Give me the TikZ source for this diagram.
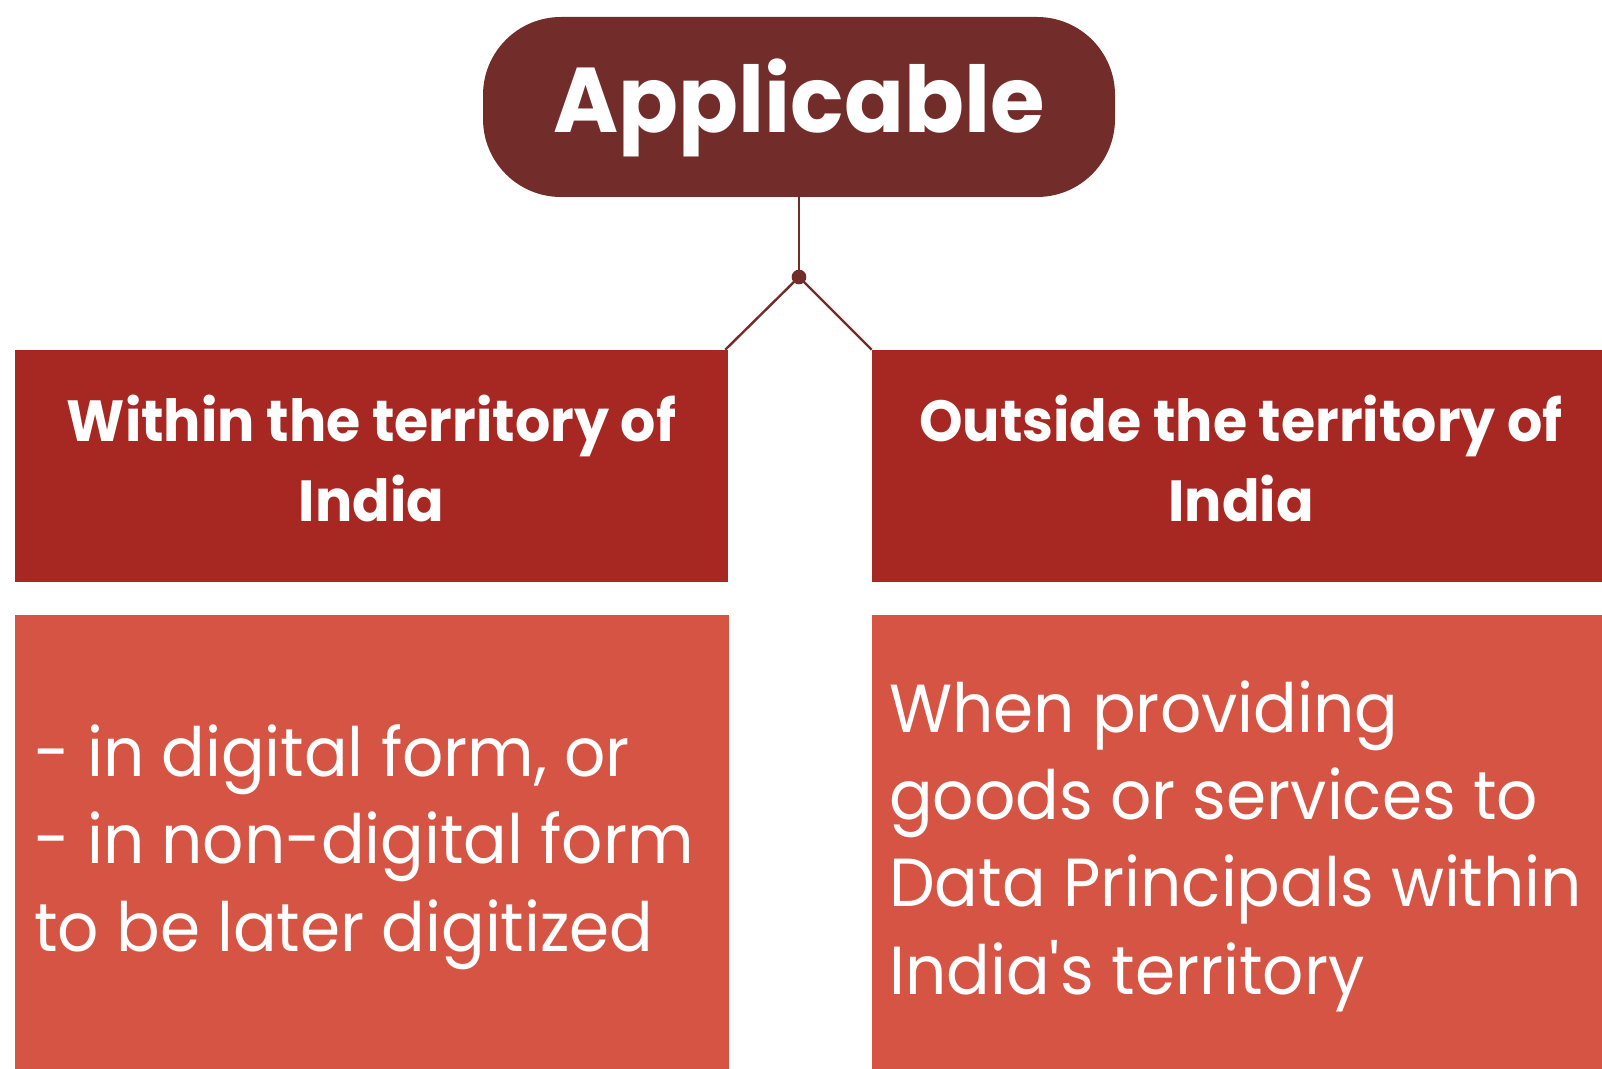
\documentclass[tikz,border=0pt]{standalone}
\usepackage{fontspec}
\setmainfont{Poppins}
\newfontfamily\titlefont[FakeStretch=0.96]{Poppins}
\newfontfamily\headfont[FakeStretch=0.955]{Poppins}
\newfontfamily\bodyfont[FakeStretch=0.95]{Poppins}
\definecolor{maroon}{HTML}{722C2A}
\definecolor{headred}{HTML}{A72723}
\definecolor{bodyred}{HTML}{D65444}
\begin{document}
\begin{tikzpicture}[x=0.75pt,y=-0.75pt,
  pill/.style={fill=maroon,rounded corners=58.5pt,minimum width=474pt,minimum height=135pt,inner sep=0pt,text=white,font=\titlefont\fontsize{69pt}{69pt}\selectfont\bfseries,text height=40pt,text depth=1pt},
  headbox/.style={fill=headred,inner sep=0pt,minimum height=174pt},
  bodybox/.style={fill=bodyred,inner sep=0pt},
  headtext/.style={text=white,inner sep=0pt,align=center,font=\headfont\fontsize{43.5pt}{59.25pt}\selectfont\bfseries},
  bodytext/.style={text=white,inner sep=0pt,align=left,font=\bodyfont\fontsize{51pt}{65.5pt}\selectfont},
  link/.style={draw=maroon,line width=1.8pt}]
\useasboundingbox (0,0) rectangle (1602,1069);
\clip (0,0) rectangle (1602,1069);
\fill[white] (0,0) rectangle (1602,1069);
\node[pill] (top) at (799,107) {Applicable};
\node[headbox,minimum width=534.75pt] (h1) at (371.5,466) {};
\node[headbox,minimum width=553.5pt] (h2) at (1241,466) {};
\node[bodybox,minimum width=535.5pt,minimum height=360pt] (b1) at (372,855) {};
\node[bodybox,minimum width=553.5pt,minimum height=360pt] (b2) at (1241,855) {};
\coordinate (j) at (799,277);
\draw[link] (top.south) -- (j);
\draw[link] (j) -- ([xshift=-2.25pt]h1.north east);
\draw[link] (j) -- (h2.north west);
\fill[maroon] (j) circle (5.5pt);
\node[headtext,anchor=base] (t1) at (371.5,521) {Within the territory of\\India};
\node[headtext,anchor=base] (t2) at (1241,521) {Outside the territory of\\India};
\node[bodytext,anchor=base west] (x1) at (34,951) {- in digital form, or\\- in non-digital form\\to be later digitized};
\node[bodytext,anchor=base west] (x2) at (889,994) {When providing\\goods or services to\\Data Principals within\\India\textquotesingle s territory};
\end{tikzpicture}
\end{document}
